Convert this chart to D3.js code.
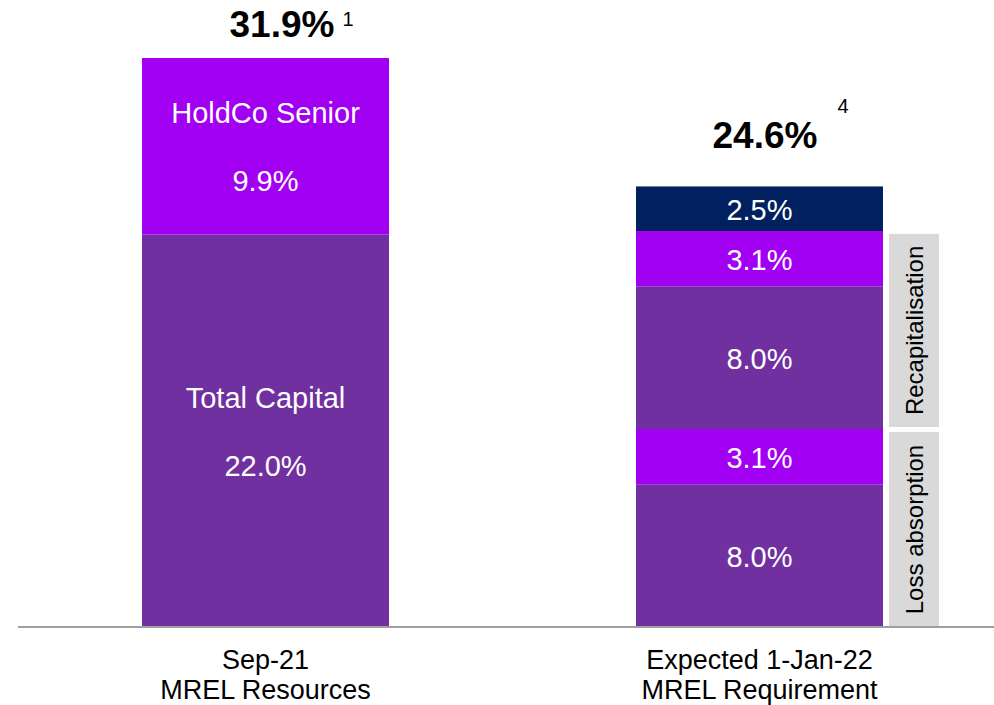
<!DOCTYPE html>
<html>
<head>
<meta charset="utf-8">
<script src="https://cdn.jsdelivr.net/npm/d3@7/dist/d3.min.js"></script>
<style>
  html, body { margin: 0; padding: 0; background: #fff; }
  svg { display: block; font-family: Arial, "Liberation Sans", sans-serif; }
</style>
</head>
<body>
<svg id="chart" width="994" height="705"></svg>
<script>
// ---- data ----
const categories = ["Sep-21|MREL Resources", "Expected 1-Jan-22|MREL Requirement"];
const resourcesSegments = [
  { name: "Total Capital", value: 22.0, color: "#7030A0" },
  { name: "HoldCo Senior", value: 9.9, color: "#A200F2" }
];
const requirementSegments = [
  { name: "", value: 8.0, color: "#7030A0" },
  { name: "", value: 3.1, color: "#A200F2" },
  { name: "", value: 8.0, color: "#7030A0" },
  { name: "", value: 3.1, color: "#A200F2" },
  { name: "", value: 2.5, color: "#002060" }
];
const totals = [31.9, 24.6];
const totalLabels = ["31.9%", "24.6%"];
const footnotes = ["1", "4"];
const groupLabels = [
  { name: "Loss absorption", from: 0, to: 11.1 },
  { name: "Recapitalisation", from: 11.1, to: 22.1 }
];

// ---- layout ----
const svg = d3.select("#chart");
const baseY = 627;
const x = d3.scaleBand().domain(categories).range([18.5, 1006.5]).paddingInner(0.5).paddingOuter(0.25);
const y = d3.scaleLinear().domain([0, 31.9]).range([baseY, 58]);

function stack(segs) {
  let acc = 0;
  return segs.map(s => { const o = { ...s, y0: acc, y1: acc + s.value }; acc += s.value; return o; });
}
const stacks = [stack(resourcesSegments), stack(requirementSegments)];

stacks.forEach((segs, i) => {
  const cat = categories[i];
  const g = svg.append("g");
  g.selectAll("rect").data(segs).join("rect")
    .attr("x", x(cat))
    .attr("width", x.bandwidth())
    .attr("y", d => y(d.y1))
    .attr("height", d => y(d.y0) - y(d.y1))
    .attr("fill", d => d.color);
});

// labels in bar 1 (name + value)
const cx0 = x(categories[0]) + x.bandwidth() / 2;
stacks[0].forEach(d => {
  const mid = (y(d.y0) + y(d.y1)) / 2;
  svg.append("text").attr("x", cx0).attr("y", mid - 33)
    .attr("text-anchor", "middle").attr("dominant-baseline", "central")
    .attr("fill", "#fff").attr("font-size", 29).text(d.name);
  svg.append("text").attr("x", cx0).attr("y", mid + 35)
    .attr("text-anchor", "middle").attr("dominant-baseline", "central")
    .attr("fill", "#fff").attr("font-size", 29).text(d.value.toFixed(1) + "%");
});

// labels in bar 2
const cx1 = x(categories[1]) + x.bandwidth() / 2;
stacks[1].forEach(d => {
  const mid = (y(d.y0) + y(d.y1)) / 2;
  svg.append("text").attr("x", cx1).attr("y", mid + 1)
    .attr("text-anchor", "middle").attr("dominant-baseline", "central")
    .attr("fill", "#fff").attr("font-size", 29).text(d.value.toFixed(1) + "%");
});

// totals
const totalX = [282, 765];
const totalY = [37, 148];
const footX = [348, 843];
const footY = [26, 113];
categories.forEach((cat, i) => {
  svg.append("text").attr("x", totalX[i]).attr("y", totalY[i])
    .attr("text-anchor", "middle").attr("font-weight", "bold")
    .attr("font-size", 37).attr("fill", "#000").text(totalLabels[i]);
  svg.append("text").attr("x", footX[i]).attr("y", footY[i])
    .attr("text-anchor", "middle").attr("font-size", 20).attr("fill", "#000").text(footnotes[i]);
});

// side group boxes
const boxX = x(categories[1]) + x.bandwidth() + 6;
const boxW = 50;
groupLabels.forEach((gl, i) => {
  const top = y(gl.to) + (i === 1 ? 1 : 3);
  const bot = y(gl.from) - (i === 1 ? 2 : 0);
  svg.append("rect").attr("x", boxX).attr("y", top).attr("width", boxW).attr("height", bot - top)
    .attr("fill", "#D9D9D9");
  const cy = (top + bot) / 2;
  svg.append("text")
    .attr("transform", `translate(${boxX + boxW / 2},${cy}) rotate(-90)`)
    .attr("text-anchor", "middle").attr("dominant-baseline", "central")
    .attr("font-size", 24).attr("fill", "#000").text(gl.name);
});

// axis
const axis = d3.axisBottom(x).tickSize(0).tickFormat(() => "");
const axG = svg.append("g").attr("transform", `translate(0,${baseY})`).call(axis);
axG.select(".domain").attr("stroke", "#A0A0A0").attr("stroke-width", 2)
  .attr("d", `M18,0H994`);
axG.selectAll(".tick").each(function(d) {
  const parts = d.split("|");
  const t = d3.select(this).append("text").attr("fill", "#000").attr("font-size", 27)
    .attr("text-anchor", "middle");
  t.append("tspan").attr("x", 0).attr("y", 42).text(parts[0]);
  t.append("tspan").attr("x", 0).attr("y", 72).text(parts[1]);
});
</script>
</body>
</html>
